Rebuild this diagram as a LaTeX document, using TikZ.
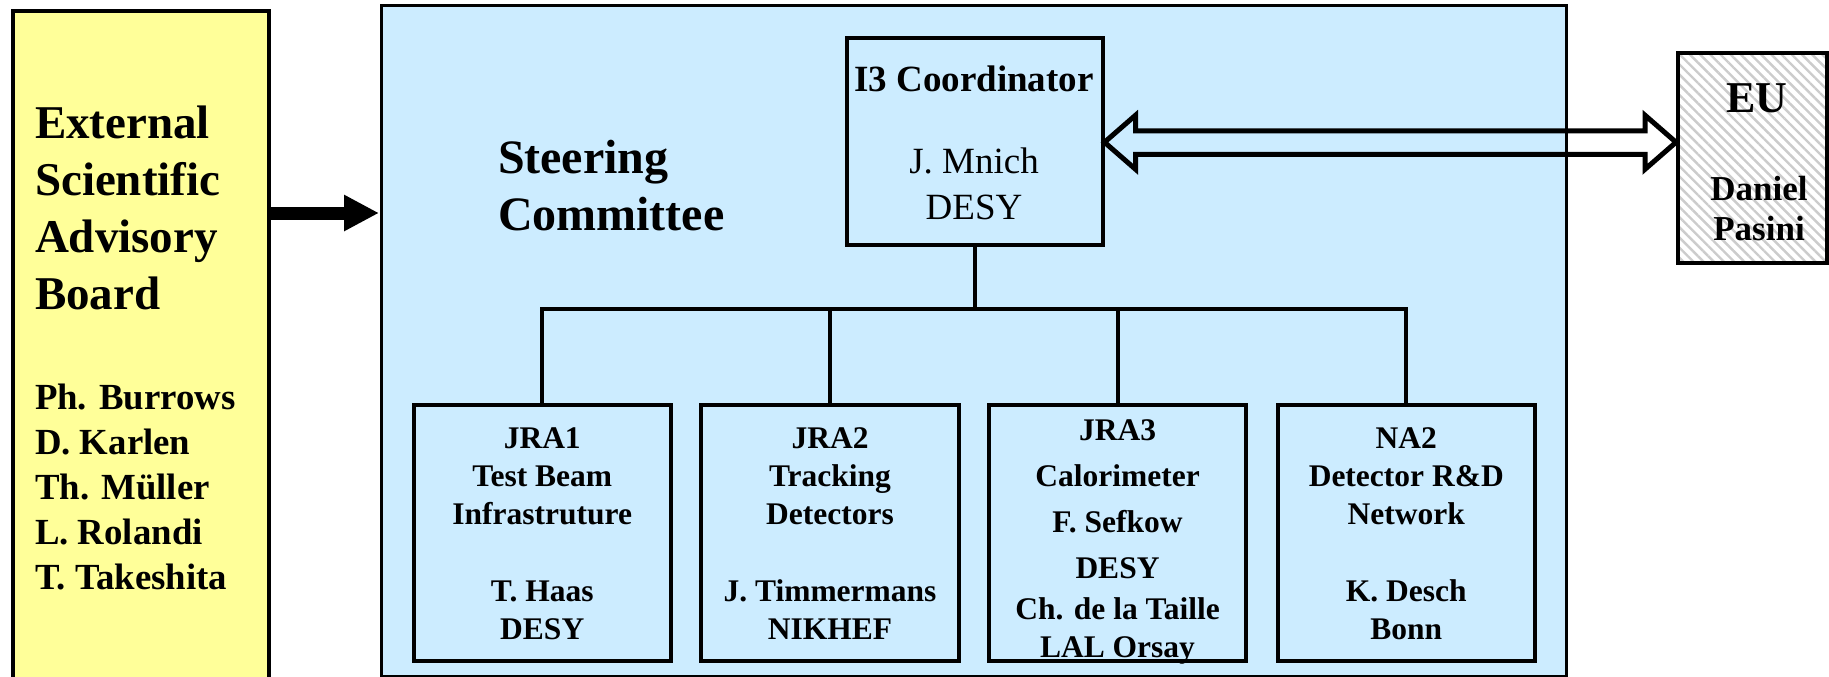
\documentclass[tikz,border=0pt]{standalone}
\usepackage{fontspec}
\setmainfont{Liberation Serif}
\usetikzlibrary{arrows.meta,calc,patterns.meta}
\definecolor{ylw}{RGB}{255,255,153}
\definecolor{lblue}{RGB}{204,236,255}
\newcommand{\fsz}[2]{\fontsize{#1}{#2}\selectfont}
\begin{document}
\begin{tikzpicture}[x=0.5pt,y=-0.5pt, line join=miter,
  frame/.style={draw=black, line width=2pt, inner sep=0pt, outer sep=0pt},
  txt/.style={inner sep=0pt, outer sep=0pt},
  subbox/.style={frame, fill=lblue, minimum width=128.75pt, minimum height=127.75pt},
  subtxt/.style={txt, anchor=base, font=\fsz{15.75}{19.15}\bfseries},
  wire/.style={line width=2pt},
  bigarrow/.style={line width=6.5pt, -{Triangle[length=17.5pt,width=17pt]}},
  dblarrow/.style={line width=2.5pt}]
\useasboundingbox (0,0) rectangle (1829,676);

% boxes
\node[frame, fill=ylw, minimum width=128.25pt, minimum height=344.5pt] (esab) at (140.75,355.5) {};
\node[frame, line width=1.5pt, fill=lblue, minimum width=592.5pt, minimum height=335.5pt] (steer) at (973.5,340.5) {};
\node[frame, fill=lblue, minimum width=128pt, minimum height=103.75pt] (coord) at (974.5,141.25) {};
\node[frame, preaction={fill=white}, pattern={Lines[angle=-45,distance=3.6pt,line width=1.2pt]}, pattern color=gray!40, minimum width=74.5pt, minimum height=105pt] (eu) at (1752.5,158) {};

\node[subbox] (jra1) at (542.25,532.75) {};
\node[subbox] (jra2) at (830,532.75) {};
\node[subbox] (jra3) at (1117.5,532.75) {};
\node[subbox] (na2) at (1406.25,532.75) {};

% texts
\node[txt, anchor=base west, font=\fsz{23.5}{28.6}\bfseries] (esabtitle) at (35,138)
  {\begin{tabular}[t]{@{}l@{}}External\\Scientific\\Advisory\\Board\end{tabular}};
\node[txt, anchor=base west, font=\fsz{18.4}{22.5}\bfseries] (esabnames) at (35,409)
  {\begin{tabular}[t]{@{}l@{}}Ph. Burrows\\D. Karlen\\Th. Müller\\L. Rolandi\\T. Takeshita\end{tabular}};
\node[txt, anchor=base west, font=\fsz{24}{28.5}\bfseries] (steertitle) at (498,173)
  {\begin{tabular}[t]{@{}l@{}}Steering\\Committee\end{tabular}};
\node[txt, anchor=base, font=\fsz{18.5}{22}\bfseries] (coordtitle) at (974,91) {I3 Coordinator};
\node[txt, anchor=base, font=\fsz{18.5}{23}] (coordname) at (974,173)
  {\begin{tabular}[t]{@{}c@{}}J. Mnich\\DESY\end{tabular}};
\node[txt, anchor=base, font=\fsz{22}{26}\bfseries] (eutitle) at (1757,112) {EU};
\node[txt, anchor=base, font=\fsz{17.5}{20}\bfseries] (euname) at (1759,200)
  {\begin{tabular}[t]{@{}c@{}}Daniel\\Pasini\end{tabular}};

\node[subtxt] (jra1t) at (542.25,448)
  {\begin{tabular}[t]{@{}c@{}}JRA1\\Test Beam\\Infrastruture\\ \\T. Haas\\DESY\end{tabular}};
\node[subtxt] (jra2t) at (830,448)
  {\begin{tabular}[t]{@{}c@{}}JRA2\\Tracking\\Detectors\\ \\J. Timmermans\\NIKHEF\end{tabular}};
\node[subtxt] (jra3t) at (1117.5,440)
  {\begin{tabular}[t]{@{}c@{}}JRA3\\[4pt]Calorimeter\\[4pt]F. Sefkow\\[4pt]DESY\\[1pt]Ch. de la Taille\\LAL Orsay\end{tabular}};
\node[subtxt] (na2t) at (1406.25,448)
  {\begin{tabular}[t]{@{}c@{}}NA2\\Detector R\&D\\Network\\ \\K. Desch\\Bonn\end{tabular}};

% connectors
\coordinate (bus) at (974,309);
\draw[wire] (coord.south) -- (coord.south |- bus);
\draw[wire] (jra1.north) -- (jra1.north |- bus) -- (na2.north |- bus) -- (na2.north);
\draw[wire] (jra2.north) -- (jra2.north |- bus);
\draw[wire] (jra3.north) -- (jra3.north |- bus);

\coordinate (ya) at (269,213);
\draw[bigarrow] (esab.east |- ya) -- ([xshift=-1pt]steer.west |- ya);

\coordinate (A) at ($(coord.east)+(2,1)$);
\coordinate (B) at ($(eu.west |- A)+(-2,0)$);
\draw[dblarrow] (A) -- ($(A)+(31,-27)$) -- ($(A)+(31,-11.5)$) -- ($(B)+(-31,-11.5)$)
  -- ($(B)+(-31,-27)$) -- (B) -- ($(B)+(-31,27)$) -- ($(B)+(-31,12)$)
  -- ($(A)+(31,12)$) -- ($(A)+(31,27)$) -- cycle;
\end{tikzpicture}
\end{document}
